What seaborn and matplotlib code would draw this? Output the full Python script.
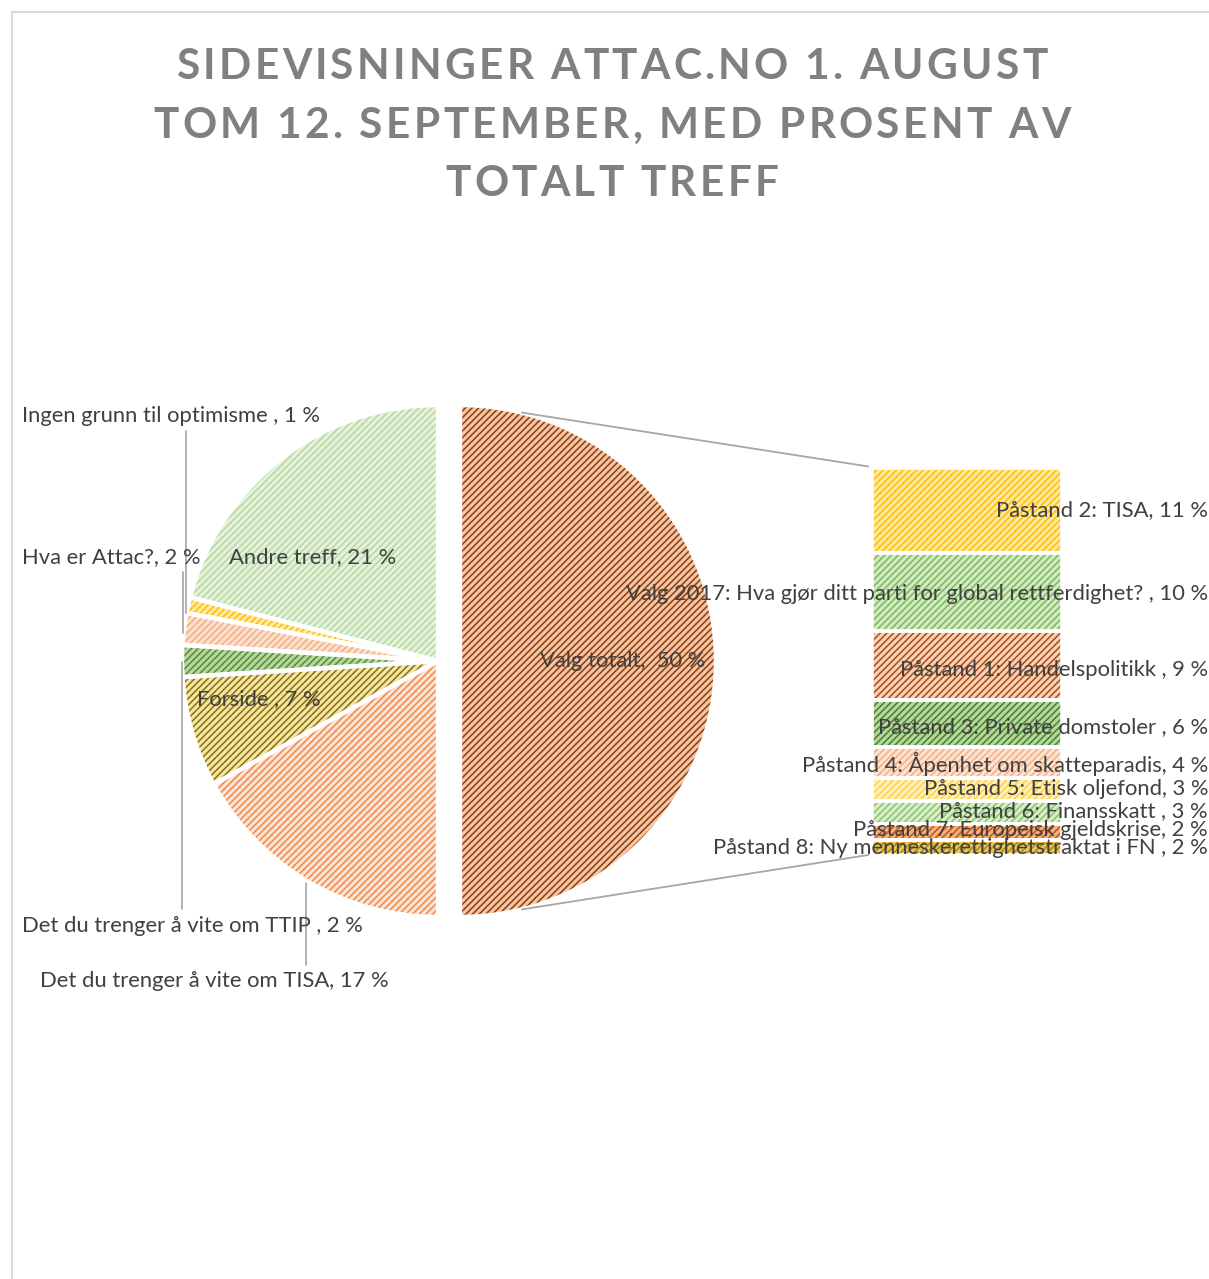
import numpy as np
import pandas as pd
import matplotlib
matplotlib.use("Agg")
import matplotlib.pyplot as plt
import seaborn as sns
from matplotlib.patches import ConnectionPatch
from matplotlib.lines import Line2D
from matplotlib.font_manager import FontProperties

# ---------------- data ----------------
title_lines = ["SIDEVISNINGER ATTAC.NO 1. AUGUST",
               "TOM 12. SEPTEMBER, MED PROSENT AV",
               "TOTALT TREFF"]

pie_names = ["Valg totalt", "Det du trenger å vite om TISA", "Forside ",
             "Det du trenger å vite om TTIP ", "Hva er Attac?",
             "Ingen grunn til optimisme ", "Andre treff"]
pie_values = [50, 17, 7, 2, 2, 1, 21]
pie_face = ["#F6C6A4", "#FCE4D6", "#F5E6A6", "#B5D89E", "#FBE0CF", "#FFE9A8", "#E6F2DD"]
pie_hatchc = ["#8C4015", "#F08A4B", "#8A7414", "#5B8C3A", "#F4B183", "#FFC000", "#B5D9A0"]

bar_names = ["Påstand 2: TISA",
             "Valg 2017: Hva gjør ditt parti for global rettferdighet? ",
             "Påstand 1: Handelspolitikk ",
             "Påstand 3: Private domstoler ",
             "Påstand 4: Åpenhet om skatteparadis",
             "Påstand 5: Etisk oljefond",
             "Påstand 6: Finansskatt ",
             "Påstand 7: Europeisk gjeldskrise",
             "Påstand 8: Ny menneskerettighetstraktat i FN "]
bar_values = [11, 10, 9, 6, 4, 3, 3, 2, 2]
bar_face = ["#FFE8A0", "#D3EAC6", "#F9D2B8", "#B5D89E", "#FCE3D3", "#FFEFB8", "#D8EDCB", "#F4B183", "#E8C65A"]
bar_hatchc = ["#FFC000", "#7DBA57", "#A8501C", "#4F7F30", "#F4B183", "#FFD34D", "#8BC56A", "#C55A11", "#B08A10"]

# ---------------- style ----------------
sns.set_theme(style="white")
plt.rcParams["font.family"] = ["Lato", "DejaVu Sans"]
plt.rcParams["hatch.linewidth"] = 1.15

HATCH = "/////"

W, H, DPI = 1209, 1279, 100
fig = plt.figure(figsize=(W / DPI, H / DPI), dpi=DPI)
fig.patch.set_facecolor("white")

def fx(x):
    return x / W

def fy(y):
    return 1 - y / H

LABEL_C = "#404040"
LFS = 15.8

# frame border (top and left visible)
fig.add_artist(Line2D([fx(12), fx(W + 5)], [fy(12), fy(12)], color="#D9D9D9", lw=1.5))
fig.add_artist(Line2D([fx(12), fx(12)], [fy(12), fy(H + 5)], color="#D9D9D9", lw=1.5))

# ---------------- pie ----------------
R = 256
cx, cy = 438, 661
ax_pie = fig.add_axes([fx(cx - 1.2 * R), fy(cy + 1.2 * R), 2.4 * R / W, 2.4 * R / H])
explode = [22 / R] + [0] * (len(pie_values) - 1)
wedges, _ = ax_pie.pie(pie_values, startangle=90, counterclock=False, radius=1,
                       explode=explode, colors=pie_face, hatch=HATCH,
                       wedgeprops=dict(linewidth=0))
for w, hc in zip(wedges, pie_hatchc):
    w.set_edgecolor(hc)
    w.set_linewidth(0)
ax_pie.pie(pie_values, startangle=90, counterclock=False, radius=1, explode=explode,
           colors=["none"] * len(pie_values),
           wedgeprops=dict(linewidth=3.2, edgecolor="white", facecolor="none"))
ax_pie.set_xlim(-1.2, 1.2)
ax_pie.set_ylim(-1.2, 1.2)
ax_pie.set_aspect("equal")
ax_pie.axis("off")

# ---------------- bar of pie ----------------
bx0, bx1, by0, by1 = 872, 1062, 468, 855
ax_bar = fig.add_axes([fx(bx0), fy(by1), (bx1 - bx0) / W, (by1 - by0) / H])
bottoms = np.concatenate([[0], np.cumsum(bar_values)[:-1]])
ax_bar.bar([0] * len(bar_values), bar_values, bottom=bottoms, width=1.0,
           color=bar_face, edgecolor=bar_hatchc, linewidth=0, hatch=HATCH)
ax_bar.bar([0] * len(bar_values), bar_values, bottom=bottoms, width=1.0,
           color="none", edgecolor="white", linewidth=2.6)
ax_bar.set_xlim(-0.5, 0.5)
ax_bar.set_ylim(sum(bar_values), 0)
ax_bar.axis("off")

# connector lines
ang = np.deg2rad(76)
ex = explode[0]
topA = (ex + np.cos(ang), np.sin(ang))
botA = (ex + np.cos(ang), -np.sin(ang))
for pa, pb in [(topA, (-0.52, -0.2)), (botA, (-0.52, sum(bar_values)))]:
    cp = ConnectionPatch(xyA=pa, coordsA=ax_pie.transData, xyB=pb, coordsB=ax_bar.transData,
                         color="#A6A6A6", lw=1.3, zorder=5)
    fig.add_artist(cp)

# ---------------- labels ----------------
def lab(name, v):
    return f"{name}, {v} %"

def ftext(x, y, s, ha="left", **kw):
    fig.text(fx(x), fy(y), s, ha=ha, va="center", color=LABEL_C, fontsize=LFS, zorder=10, **kw)

ftext(623, 661, f"{pie_names[0]},  {pie_values[0]} %", ha="center")
ftext(40, 981, lab(pie_names[1], pie_values[1]))
ftext(197, 699, lab(pie_names[2], pie_values[2]))
ftext(22, 926, lab(pie_names[3], pie_values[3]))
ftext(22, 557, lab(pie_names[4], pie_values[4]))
ftext(22, 416, lab(pie_names[5], pie_values[5]))
ftext(229, 557, lab(pie_names[6], pie_values[6]))

# leader lines
LC = "#A6A6A6"
for (x, y0, y1) in [(185.5, 431, 613), (182.7, 572, 633), (181.7, 662, 909), (305.7, 883, 965)]:
    fig.add_artist(Line2D([fx(x), fx(x)], [fy(y0), fy(y1)], color=LC, lw=1.2, zorder=6))

bar_label_y = [510, 594, 670, 727, 764, 789, 811, 830, 848]
for name, v, y in zip(bar_names, bar_values, bar_label_y):
    ftext(1208, y, lab(name, v), ha="right")

# ---------------- title with letter spacing ----------------
renderer = fig.canvas.get_renderer()
tfp = FontProperties(family=["Lato", "DejaVu Sans"], weight="bold", size=30.5)
TC = "#808080"

def width(s):
    return renderer.get_text_width_height_descent(s, tfp, ismath=False)[0]

target1 = 871
sp = (target1 - width(title_lines[0])) / (len(title_lines[0]) - 1)
baselines = [79, 138, 196]
center_x = 612
for line, base in zip(title_lines, baselines):
    total = width(line) + sp * (len(line) - 1)
    left = center_x - total / 2
    for i, ch in enumerate(line):
        if ch == " ":
            continue
        right = width(line[:i + 1]) + sp * i
        fig.text(fx(left + right), fy(base), ch, ha="right", va="baseline",
                 fontproperties=tfp, color=TC)

fig.savefig("out.png", dpi=DPI, facecolor="white")
